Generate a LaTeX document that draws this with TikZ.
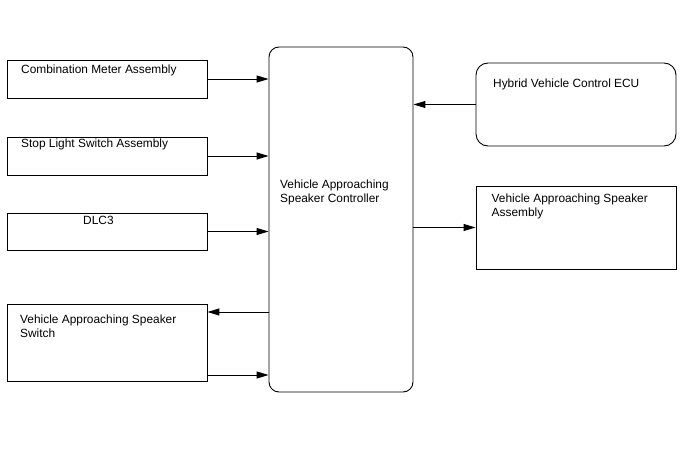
\documentclass[tikz,border=0pt]{standalone}
\usepackage{fontspec}
\setmainfont{Liberation Sans}
\usepackage{tikz}
\usetikzlibrary{arrows.meta,positioning,calc}

\begin{document}
\begin{tikzpicture}[x=1pt, y=-1pt,
  box/.style={draw, line width=0.9pt, minimum width=200pt, inner sep=0pt},
  rbox/.style={box, rounded corners=#1},
  lbl/.style={anchor=north west, inner sep=0pt, align=left,
    font=\fontsize{11.9}{13.8}\selectfont},
  arr/.style={-{Triangle[length=12pt, width=7pt]}, line width=1pt},
]
\useasboundingbox (0,0) rectangle (688,463);
\node[box, minimum height=38pt] (cma) at (107,79) {};
\node[box, minimum height=38pt] (sls) at (107,156) {};
\node[box, minimum height=37pt] (dlc) at (107,231.5) {};
\node[box, minimum height=77pt] (vsw) at (107,342.5) {};
\node[rbox=10pt, minimum width=144pt, minimum height=345pt] (ctl) at (341,219.5) {};
\node[rbox=12pt, minimum height=83pt] (hv) at (576,104.5) {};
\node[box, minimum height=83pt] (spk) at (576,227.5) {};
\node[lbl] (cmat) at (21,65) {Combination Meter Assembly};
\node[lbl] (slst) at (21,139) {Stop Light Switch Assembly};
\node[lbl] (dlct) at (83,216) {DLC3};
\node[lbl] (vswt) at (20,314.5) {Vehicle Approaching Speaker\\Switch};
\node[lbl] (ctlt) at (280,180) {Vehicle Approaching\\Speaker Controller};
\node[lbl] (hvt) at (493,79) {Hybrid Vehicle Control ECU};
\node[lbl] (spkt) at (491.5,194) {Vehicle Approaching Speaker\\Assembly};
\draw[arr] (cma.east) -- (cma.east -| ctl.west);
\draw[arr] (sls.east) -- (sls.east -| ctl.west);
\draw[arr] (dlc.east) -- (dlc.east -| ctl.west);
\draw[arr] ([yshift=30.5pt]vsw.east -| ctl.west) -- ([yshift=30.5pt]vsw.east);
\draw[arr] ([yshift=-32.5pt]vsw.east) -- ([yshift=-32.5pt]vsw.east -| ctl.west);
\draw[arr] (hv.west) -- (hv.west -| ctl.east);
\draw[arr] (spk.west -| ctl.east) -- (spk.west);
\end{tikzpicture}
\end{document}
